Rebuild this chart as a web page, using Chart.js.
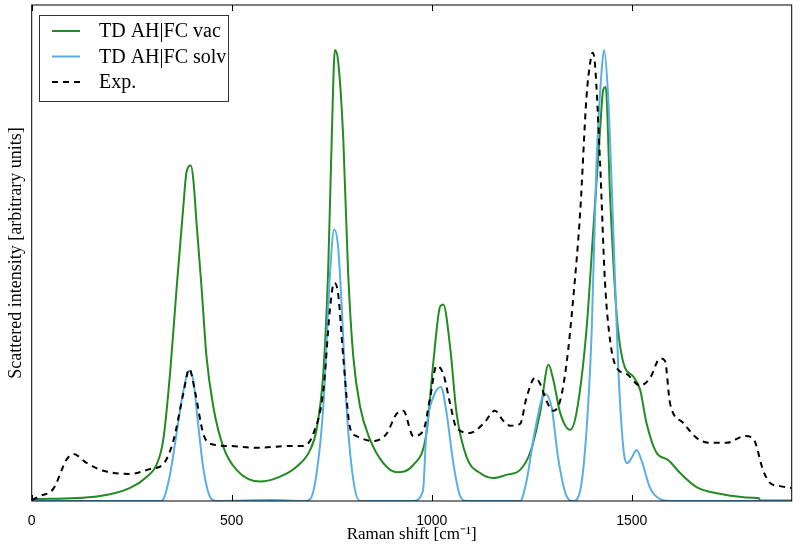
<!DOCTYPE html>
<html>
<head>
<meta charset="utf-8">
<script src="https://cdn.jsdelivr.net/npm/chart.js@4/dist/chart.umd.min.js"></script>
<style>
  html, body { margin: 0; padding: 0; background: #fff; }
  #wrap { width: 800px; height: 547px; }
</style>
</head>
<body>
<div id="wrap"><canvas id="raman"></canvas></div>
<script>
// Raman shift (cm-1) and intensity
const vacShift = [0, 162, 246, 288, 312, 329, 346, 362, 379, 387, 398, 404, 412, 425, 437, 454, 479, 512, 571, 621, 662, 696, 712, 729, 741, 750, 758, 766, 779, 791, 804, 821, 846, 879, 912, 954, 987, 1004, 1021, 1029, 1046, 1062, 1087, 1121, 1154, 1187, 1221, 1246, 1271, 1292, 1304, 1321, 1346, 1362, 1387, 1404, 1421, 1429, 1435, 1446, 1462, 1479, 1504, 1521, 1537, 1562, 1591, 1621, 1662, 1721, 1804, 1818, 1821, 1900];
const vacIntensity = [0.004, 0.010, 0.029, 0.054, 0.080, 0.136, 0.284, 0.469, 0.653, 0.729, 0.744, 0.713, 0.618, 0.469, 0.320, 0.209, 0.120, 0.069, 0.043, 0.054, 0.076, 0.113, 0.158, 0.284, 0.507, 0.802, 1.000, 0.976, 0.802, 0.507, 0.320, 0.209, 0.136, 0.084, 0.064, 0.080, 0.151, 0.307, 0.431, 0.436, 0.342, 0.196, 0.098, 0.062, 0.051, 0.058, 0.069, 0.107, 0.196, 0.302, 0.269, 0.196, 0.158, 0.196, 0.380, 0.602, 0.824, 0.913, 0.918, 0.676, 0.418, 0.307, 0.276, 0.247, 0.173, 0.107, 0.091, 0.062, 0.031, 0.016, 0.007, 0.006, 0.001, 0.001];

const solvShift = [0, 321, 329, 346, 362, 379, 394, 404, 416, 429, 446, 462, 600, 679, 696, 712, 729, 746, 756, 766, 775, 787, 804, 821, 953, 978, 987, 1004, 1023, 1037, 1054, 1071, 1087, 1221, 1237, 1258, 1283, 1300, 1316, 1337, 1354, 1371, 1387, 1400, 1412, 1425, 1431, 1441, 1454, 1466, 1479, 1489, 1500, 1512, 1525, 1546, 1571, 1596, 1900];
const solvIntensity = [0, 0, 0.004, 0.060, 0.149, 0.244, 0.289, 0.267, 0.171, 0.073, 0.009, 0, 0.002, 0, 0.004, 0.060, 0.209, 0.507, 0.602, 0.564, 0.431, 0.209, 0.047, 0, 0, 0.022, 0.158, 0.231, 0.253, 0.196, 0.084, 0.011, 0, 0, 0.044, 0.156, 0.238, 0.207, 0.096, 0.011, 0, 0.022, 0.156, 0.378, 0.749, 0.956, 1.000, 0.898, 0.600, 0.304, 0.118, 0.084, 0.096, 0.113, 0.089, 0.029, 0.004, 0, 0];

const expShift = [0, 21, 54, 88, 104, 138, 179, 246, 296, 329, 354, 379, 394, 408, 429, 446, 496, 562, 646, 679, 704, 729, 746, 756, 766, 779, 796, 812, 854, 887, 912, 929, 954, 979, 996, 1012, 1029, 1046, 1062, 1096, 1129, 1158, 1179, 1196, 1221, 1237, 1258, 1271, 1287, 1304, 1321, 1337, 1354, 1371, 1387, 1396, 1402, 1408, 1421, 1433, 1446, 1462, 1487, 1521, 1546, 1571, 1583, 1596, 1629, 1662, 1696, 1737, 1783, 1804, 1829, 1846, 1871, 1900];
const expIntensity = [0.002, 0.011, 0.027, 0.093, 0.104, 0.084, 0.067, 0.060, 0.071, 0.082, 0.133, 0.238, 0.293, 0.244, 0.149, 0.127, 0.122, 0.118, 0.122, 0.122, 0.149, 0.244, 0.429, 0.484, 0.460, 0.318, 0.162, 0.144, 0.133, 0.149, 0.193, 0.200, 0.144, 0.156, 0.229, 0.300, 0.282, 0.216, 0.162, 0.151, 0.171, 0.200, 0.178, 0.167, 0.171, 0.229, 0.273, 0.260, 0.222, 0.200, 0.222, 0.304, 0.451, 0.638, 0.896, 0.971, 0.994, 0.971, 0.749, 0.489, 0.356, 0.296, 0.282, 0.256, 0.273, 0.316, 0.311, 0.216, 0.173, 0.140, 0.129, 0.129, 0.144, 0.138, 0.067, 0.040, 0.033, 0.029];

const seriesNames = ['TD AH|FC vac', 'TD AH|FC solv', 'Exp.'];
const seriesColors = ['#228b22', '#5aaee6', '#000000'];
const xTicks = [0, 500, 1000, 1500];

const toPoints = (xs, ys) => xs.map((x, i) => ({ x: x, y: ys[i] }));

// box + inward ticks like the matplotlib frame
const framePlugin = {
    id: 'frame',
    afterDatasetsDraw(chart) {
        const { ctx, chartArea: a, scales } = chart;
        ctx.save();
        ctx.strokeStyle = '#000';
        ctx.lineWidth = 1;
        ctx.strokeRect(a.left, a.top, a.right - a.left, a.bottom - a.top);
        ctx.beginPath();
        xTicks.forEach(v => {
            const px = Math.round(scales.x.getPixelForValue(v)) + 0.5;
            ctx.moveTo(px, a.bottom);
            ctx.lineTo(px, a.bottom - 6);
            ctx.moveTo(px, a.top);
            ctx.lineTo(px, a.top + 6);
        });
        ctx.stroke();
        ctx.restore();
    }
};

// legend box in the upper left corner
const legendBox = {
    id: 'legendBox',
    afterDraw(chart) {
        const ctx = chart.ctx;
        const left = 39, top = 15, w = 189, h = 86;
        ctx.save();
        ctx.fillStyle = '#fff';
        ctx.fillRect(left, top, w, h);
        ctx.strokeStyle = '#333';
        ctx.lineWidth = 1;
        ctx.strokeRect(left + 0.5, top + 0.5, w, h);
        ctx.font = '20px "Liberation Serif"';
        ctx.textBaseline = 'middle';
        seriesNames.forEach((name, i) => {
            const y = 31 + i * 25.5;
            ctx.beginPath();
            ctx.strokeStyle = seriesColors[i];
            ctx.lineWidth = 2;
            ctx.setLineDash(i === 2 ? [6, 5] : []);
            ctx.moveTo(52, y);
            ctx.lineTo(80, y);
            ctx.stroke();
            ctx.setLineDash([]);
            ctx.fillStyle = '#000';
            ctx.fillText(name, 99, y + 1);
        });
        ctx.restore();
    }
};

const ctx = document.getElementById('raman').getContext('2d');

new Chart(ctx, {
    type: 'line',
    data: {
        datasets: [
            {
                label: seriesNames[0],
                data: toPoints(vacShift, vacIntensity),
                borderColor: seriesColors[0],
                borderWidth: 2,
                order: 2,
            },
            {
                label: seriesNames[1],
                data: toPoints(solvShift, solvIntensity),
                borderColor: seriesColors[1],
                borderWidth: 2,
                order: 1,
            },
            {
                label: seriesNames[2],
                data: toPoints(expShift, expIntensity),
                borderColor: seriesColors[2],
                borderWidth: 2,
                borderDash: [6, 5],
                order: 0,
            }
        ]
    },
    options: {
        responsive: true,
        maintainAspectRatio: false,
        animation: false,
        layout: {
            padding: { top: 5, right: 8.3, left: 0, bottom: 0 }
        },
        elements: {
            point: { radius: 0 },
            line: { cubicInterpolationMode: 'monotone', fill: false }
        },
        scales: {
            x: {
                type: 'linear',
                min: 0,
                max: 1900,
                grid: { display: false },
                border: { display: false },
                afterBuildTicks(scale) {
                    scale.ticks = xTicks.map(v => ({ value: v }));
                },
                ticks: {
                    color: '#000',
                    padding: 4,
                    maxRotation: 0,
                    autoSkip: false,
                    callback: v => String(v),
                    font: { family: '"Liberation Sans"', size: 14 }
                },
                title: {
                    display: true,
                    text: 'Raman shift [cm⁻¹]',
                    color: '#000',
                    padding: { top: 0, bottom: 2 },
                    font: { family: '"Liberation Serif"', size: 17 }
                },
                afterFit(scale) { scale.height = 46; }
            },
            y: {
                min: 0,
                max: 1.1,
                grid: { display: false },
                border: { display: false },
                ticks: { display: false },
                title: {
                    display: true,
                    text: 'Scattered intensity [arbitrary units]',
                    color: '#000',
                    padding: { top: 5, bottom: 0 },
                    font: { family: '"Liberation Serif"', size: 18 }
                },
                afterFit(scale) { scale.width = 31.7; }
            }
        },
        plugins: {
            legend: { display: false },
            tooltip: { enabled: false }
        }
    },
    plugins: [framePlugin, legendBox]
});
</script>
</body>
</html>
